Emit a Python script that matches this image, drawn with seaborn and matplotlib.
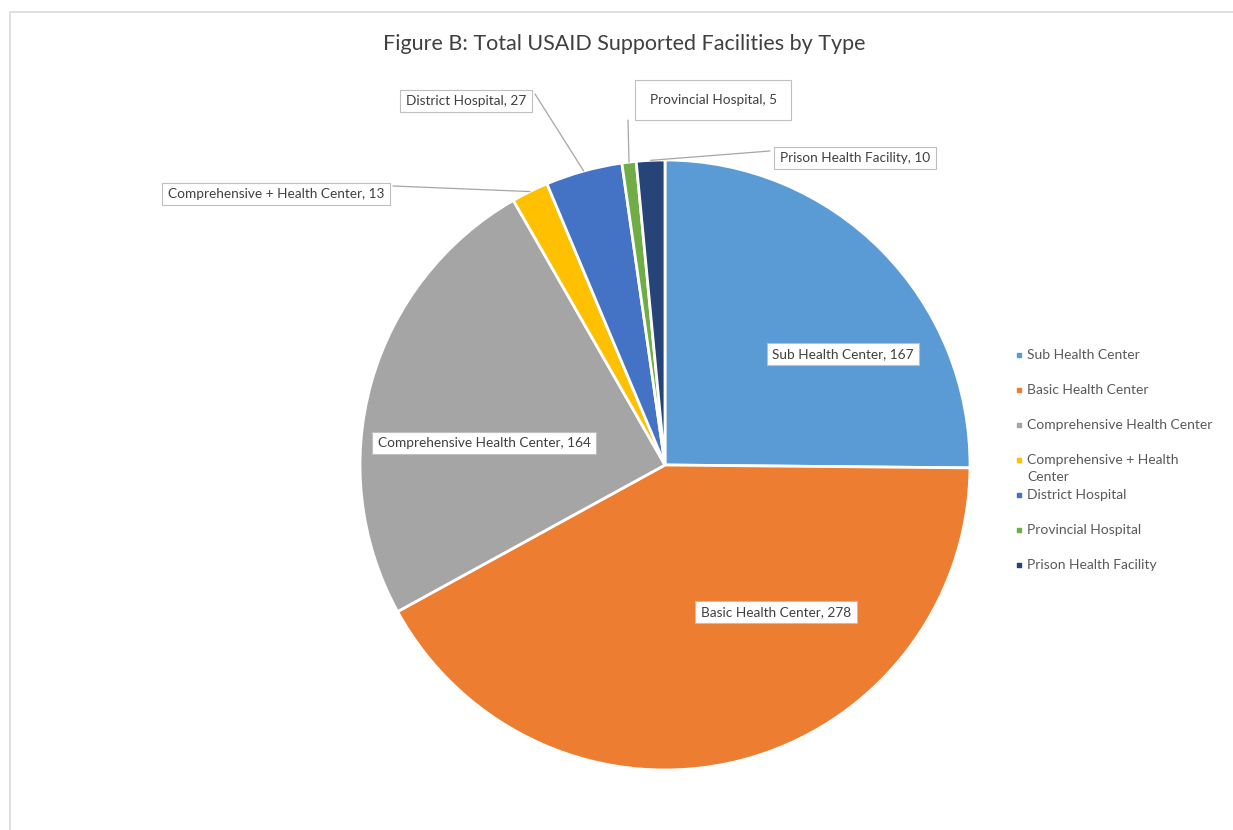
import matplotlib
matplotlib.use("Agg")
import matplotlib.pyplot as plt
import seaborn as sns
import numpy as np

categories = ["Sub Health Center", "Basic Health Center", "Comprehensive Health Center",
              "Comprehensive + Health Center", "District Hospital", "Provincial Hospital",
              "Prison Health Facility"]
values = [167, 278, 164, 13, 27, 5, 10]
legend_labels = ["Sub Health Center", "Basic Health Center", "Comprehensive Health Center",
                 "Comprehensive + Health\nCenter", "District Hospital", "Provincial Hospital",
                 "Prison Health Facility"]
colors = ["#5B9BD5", "#ED7D31", "#A5A5A5", "#FFC000", "#4472C4", "#70AD47", "#264478"]
title = "Figure B: Total USAID Supported Facilities by Type"

sns.set_theme(style="white")
FONT = ["Lato", "DejaVu Sans"]
plt.rcParams['font.family'] = FONT

W, H = 1233, 830
fig = plt.figure(figsize=(W / 100, H / 100), dpi=100)
ax = fig.add_axes([0, 0, 1, 1])
ax.set_xlim(0, W)
ax.set_ylim(0, H)
ax.set_aspect("equal")
ax.axis("off")

def P(x, y):
    return (x, H - y)

# chart border (right and bottom edges run off the picture)
ax.add_patch(plt.Rectangle(P(10, 845), W + 20, 845 - 12, fill=False,
                           edgecolor="#D9D9D9", linewidth=1.2, clip_on=False))

cx, cy = P(665, 465)
R = 305
wedges, _ = ax.pie(values, colors=colors, startangle=90, counterclock=False,
                   center=(cx, cy), radius=R,
                   wedgeprops=dict(edgecolor="white", linewidth=2))
ax.set_xlim(0, W)
ax.set_ylim(0, H)

ax.text(*P(624, 44), title, ha="center", va="center", fontsize=15.5, color="#404040")

txtc = "#404040"
FS = 9.8
box = dict(boxstyle="square,pad=0.4", facecolor="white", edgecolor="#BFBFBF", linewidth=0.8)

# inside labels
inside = {0: (843, 354), 1: (776, 612), 2: (484, 443)}
for i, (x, y) in inside.items():
    ax.text(*P(x, y), f"{categories[i]}, {values[i]}", ha="center", va="center",
            fontsize=FS, color=txtc, bbox=box)

# outside labels with leader lines: (label center, line start)
outside = {
    3: ((276, 194), (393, 186)),
    4: ((466, 101), (535, 94)),
    5: ((713, 100), (628, 120)),
    6: ((855, 158), (770, 151)),
}
for i, ((x, y), (sx, sy)) in outside.items():
    w = wedges[i]
    ang = np.deg2rad((w.theta1 + w.theta2) / 2)
    ex, ey = cx + R * np.cos(ang), cy + R * np.sin(ang)
    ax.plot([P(sx, sy)[0], ex], [P(sx, sy)[1], ey], color="#A6A6A6", linewidth=0.9, zorder=1)
    b = dict(box)
    if i == 5:
        b["boxstyle"] = "square,pad=1.05"
    ax.text(*P(x, y), f"{categories[i]}, {values[i]}", ha="center", va="center",
            fontsize=FS, color=txtc, bbox=b, zorder=3)

# legend
for k, (lab, col) in enumerate(zip(legend_labels, colors)):
    y = 355 + 35 * k
    ax.scatter(*P(1019, y), marker="s", s=12, color=col, zorder=3)
    ax.text(*P(1027, y - 6), lab, ha="left", va="top", fontsize=10,
            color="#595959", linespacing=1.5)

fig.savefig("out.png", dpi=100)
